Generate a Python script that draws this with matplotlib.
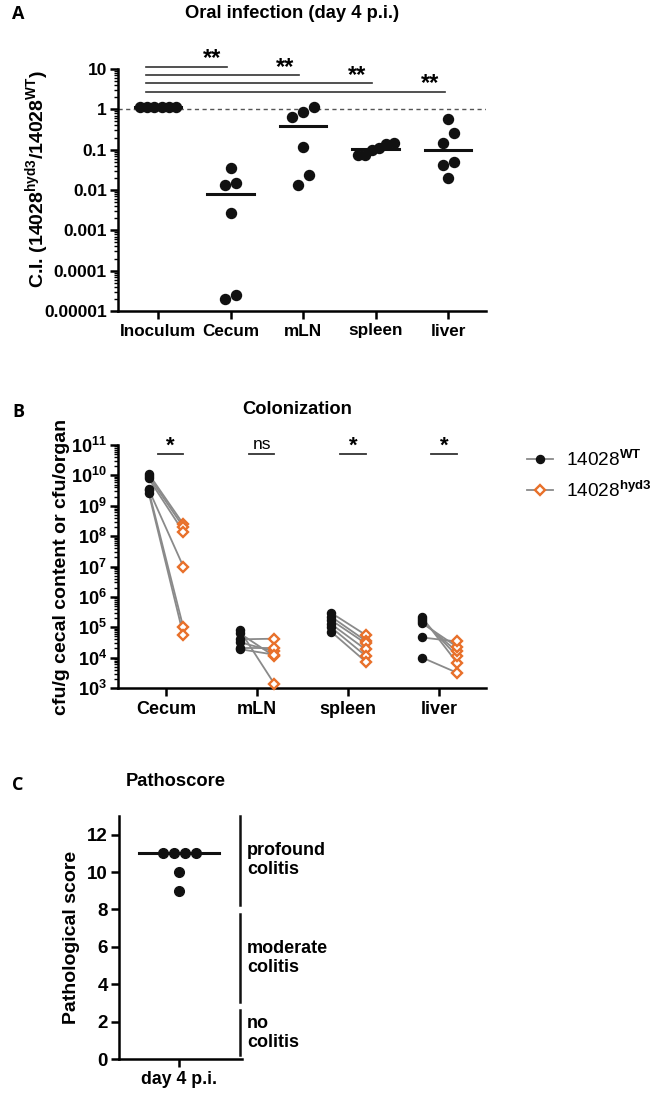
import numpy as np
import matplotlib
matplotlib.use('Agg')
import matplotlib.pyplot as plt
from matplotlib.lines import Line2D
from matplotlib.ticker import LogLocator, NullFormatter

plt.rcParams['font.family'] = ['Liberation Sans', 'DejaVu Sans']
plt.rcParams['font.weight'] = 'bold'
plt.rcParams['mathtext.fontset'] = 'custom'
plt.rcParams['mathtext.rm'] = 'Liberation Sans'
plt.rcParams['mathtext.bf'] = 'Liberation Sans:bold'
plt.rcParams['mathtext.it'] = 'Liberation Sans:italic'

# --- Panel A: competitive index ---
ci_groups = ['Inoculum', 'Cecum', 'mLN', 'spleen', 'liver']
ci_inoculum = [1.12, 1.12, 1.12, 1.12, 1.12, 1.12]
ci_cecum = [0.036, 0.015, 0.013, 0.0027, 0.000025, 0.00002]
ci_mln = [1.14, 0.84, 0.66, 0.118, 0.023, 0.013]
ci_spleen = [0.148, 0.135, 0.112, 0.1, 0.074, 0.074]
ci_liver = [0.59, 0.26, 0.148, 0.05, 0.042, 0.0195]
ci_ticks = [1e-5, 1e-4, 1e-3, 1e-2, 1e-1, 1, 10]
ci_ticklabels = ['0.00001', '0.0001', '0.001', '0.01', '0.1', '1', '10']
ci_sig = ['**', '**', '**', '**']
ci_sig_y = [11.2, 7.0, 4.4, 2.7]

# --- Panel B: colonization (paired WT / hyd3) ---
col_groups = ['Cecum', 'mLN', 'spleen', 'liver']
wt_cecum = [1.12e10, 9.5e9, 7.9e9, 3.5e9, 3.2e9, 2.7e9]
hyd_cecum = [2.5e8, 2.0e8, 1.4e8, 1.0e7, 1.0e5, 5.6e4]
wt_mln = [7.9e4, 6.3e4, 4.0e4, 3.2e4, 2.0e4, 1.9e4]
hyd_mln = [1.35e3, 1.1e4, 4.2e4, 1.6e4, 2.0e4, 1.25e4]
wt_spleen = [3.0e5, 2.24e5, 1.74e5, 1.29e5, 1.0e5, 7.2e4]
hyd_spleen = [5.6e4, 3.6e4, 2.95e4, 1.86e4, 1.15e4, 7.4e3]
wt_liver = [2.1e5, 1.8e5, 1.55e5, 1.35e5, 4.6e4, 1.0e4]
hyd_liver = [6.9e3, 1.15e4, 1.6e4, 2.3e4, 3.4e4, 3.2e3]
col_sig = ['*', 'ns', '*', '*']
col_exps = [3, 4, 5, 6, 7, 8, 9, 10, 11]

# --- Panel C: pathoscore ---
patho = [11, 11, 11, 11, 10, 9]
band_labels = ['profound\ncolitis', 'moderate\ncolitis', 'no\ncolitis']
band_ranges = [(8.25, 13), (3.05, 7.75), (0.2, 2.6)]

BLACK = '#111111'
ORANGE = '#E8702A'
GREY = '#8a8a8a'

W, H = 658, 1095
fig = plt.figure(figsize=(W / 100, H / 100), dpi=100)


def ax_rect(x0, y0, x1, y1):
    # pixel box -> figure fraction
    return [x0 / W, 1 - y1 / H, (x1 - x0) / W, (y1 - y0) / H]


def style(ax, ysize=12.5, xsize=12.5):
    for s in ['top', 'right']:
        ax.spines[s].set_visible(False)
    for s in ['left', 'bottom']:
        ax.spines[s].set_linewidth(1.8)
    ax.tick_params(which='major', direction='out', length=6, width=1.8)
    ax.tick_params(which='minor', direction='out', length=3, width=1.0)
    ax.tick_params(axis='y', labelsize=ysize, pad=2)
    ax.tick_params(axis='x', labelsize=xsize, pad=3)


def log_minor(ax):
    ax.yaxis.set_minor_locator(LogLocator(base=10, subs=np.arange(2, 10), numticks=100))
    ax.yaxis.set_minor_formatter(NullFormatter())


def swarm(vals, px_per_unit, px_per_x, log=True, thr=12, step=11, maxw=36):
    # simple scatter spreading for dot plots
    v = np.log10(vals) if log else np.asarray(vals, float)
    ypx = v * px_per_unit
    order = np.argsort(ypx, kind='stable')
    offs = np.zeros(len(v))
    groups = [[order[0]]]
    for i in order[1:]:
        if ypx[i] - ypx[groups[-1][-1]] < thr:
            groups[-1].append(i)
        else:
            groups.append([i])
    for g in groups:
        n = len(g)
        s = step if n < 2 else min(step, maxw / (n - 1))
        for k, i in enumerate(g):
            offs[i] = (k - (n - 1) / 2) * s / px_per_x
    return offs


# ================= Panel A =================
axA = fig.add_axes(ax_rect(118, 69, 486, 311))
style(axA, ysize=12.5, xsize=12.3)
axA.set_yscale('log')
axA.set_ylim(1e-5, 10)
axA.set_xlim(-0.55, 4.52)
axA.axhline(1, color='#555555', lw=1.0, ls=(0, (3, 2.5)), zorder=1)
ci_data = [ci_inoculum, ci_cecum, ci_mln, ci_spleen, ci_liver]
for i, vals in enumerate(ci_data):
    offs = swarm(vals, 40.3, 72.5)
    axA.plot(i + offs, vals, 'o', color=BLACK, ms=7.2, zorder=3, clip_on=False)
    med = np.median(vals)
    axA.plot([i - 0.32, i + 0.32], [med, med], color=BLACK, lw=2.2, zorder=2)
for j, (lab, yv) in enumerate(zip(ci_sig, ci_sig_y)):
    end = j + 1 - 0.05
    axA.plot([-0.17, end], [yv, yv], color='#333333', lw=1.2, clip_on=False)
    axA.text(end - 0.2, yv * 0.82, lab, ha='center', va='bottom', fontsize=17,
             clip_on=False)
axA.set_yticks(ci_ticks)
axA.set_yticklabels(ci_ticklabels)
log_minor(axA)
axA.set_xticks(range(len(ci_groups)))
axA.set_xticklabels(ci_groups)

fig.text(12 / W, 1 - 14 / H, 'A', family='Open Sans', fontsize=13, weight='bold',
         ha='left', va='center')
fig.text(292 / W, 1 - 14 / H, 'Oral infection (day 4 p.i.)', fontsize=13.2,
         ha='center', va='center')
fig.text(37 / W, 1 - 179 / H, r'C.I. (14028$^{\mathrm{hyd3}}$/14028$^{\mathrm{WT}}$)',
         rotation=90, fontsize=14, ha='center', va='center')

# ================= Panel B =================
axB = fig.add_axes(ax_rect(118, 445, 486, 688))
style(axB, ysize=13, xsize=13)
axB.set_yscale('log')
axB.set_ylim(1e3, 1e11)
axB.set_xlim(-0.526, 3.51)
wt_data = [wt_cecum, wt_mln, wt_spleen, wt_liver]
hyd_data = [hyd_cecum, hyd_mln, hyd_spleen, hyd_liver]
dx = 0.19
for i, (wt, hy) in enumerate(zip(wt_data, hyd_data)):
    for a, b in zip(wt, hy):
        axB.plot([i - dx, i + dx], [a, b], color=GREY, lw=1.3, zorder=1)
    axB.plot([i - dx] * len(wt), wt, 'o', color=BLACK, ms=5.8, zorder=3)
    axB.plot([i + dx] * len(hy), hy, 'D', mfc='white', mec=ORANGE, mew=1.7,
             ms=5.2, zorder=3, clip_on=False)
    axB.plot([i - 0.09, i + 0.19], [5e10, 5e10], color='#333333', lw=1.3, clip_on=False)
    if col_sig[i] == '*':
        axB.text(i + 0.05, 4.2e10, col_sig[i], ha='center', va='bottom',
                 fontsize=16, clip_on=False)
    else:
        axB.text(i + 0.05, 5.8e10, col_sig[i], ha='center', va='bottom',
                 fontsize=12.5, weight='normal', clip_on=False)
axB.set_yticks([10.0 ** e for e in col_exps])
axB.set_yticklabels([r'$\mathbf{10}^{%d}$' % e for e in col_exps])
log_minor(axB)
axB.set_xticks(range(len(col_groups)))
axB.set_xticklabels(col_groups)

fig.text(12 / W, 1 - 412 / H, 'B', family='Open Sans', fontsize=13, weight='bold',
         ha='left', va='center')
fig.text(297 / W, 1 - 410 / H, 'Colonization', fontsize=13.2, ha='center', va='center')
fig.text(62 / W, 1 - 567 / H, 'cfu/g cecal content or cfu/organ', rotation=90,
         fontsize=14, ha='center', va='center')

handles = [
    Line2D([], [], color=GREY, lw=1.3, marker='o', mfc=BLACK, mec=BLACK, ms=5.8),
    Line2D([], [], color=GREY, lw=1.3, marker='D', mfc='white', mec=ORANGE, mew=1.7, ms=5.2),
]
leg = fig.legend(handles, [r'14028$^{\mathrm{WT}}$', r'14028$^{\mathrm{hyd3}}$'],
                 loc='upper left', bbox_to_anchor=(527 / W, 1 - 450 / H),
                 frameon=False, borderpad=0, borderaxespad=0, handlelength=1.35,
                 handletextpad=0.7, labelspacing=0.55,
                 prop={'size': 13.7, 'weight': 'normal'})

# ================= Panel C =================
axC = fig.add_axes(ax_rect(119, 816, 242, 1059))
style(axC, ysize=13.5, xsize=12.8)
axC.set_ylim(0, 13)
axC.set_xlim(-0.98, 1.02)
offs = swarm(patho, 18.65, 61.5, log=False, thr=10)
axC.plot(np.array(offs), patho, 'o', color=BLACK, ms=7, zorder=3)
med = np.median(patho)
axC.plot([-0.65, 0.65], [med, med], color=BLACK, lw=2.2, zorder=2)
axC.set_yticks(range(0, 13, 2))
axC.set_xticks([0])
axC.set_xticklabels(['day 4 p.i.'])
for lab, (lo, hi) in zip(band_labels, band_ranges):
    axC.plot([0.98, 0.98], [lo, hi], color=BLACK, lw=1.8, clip_on=False)
    axC.text(1.1, (lo + hi) / 2, lab, ha='left', va='center', fontsize=13,
             linespacing=1.15, clip_on=False)

fig.text(12 / W, 1 - 785 / H, 'C', family='Open Sans', fontsize=13, weight='bold',
         ha='left', va='center')
fig.text(176 / W, 1 - 782 / H, 'Pathoscore', fontsize=13.2, ha='center', va='center')
fig.text(72 / W, 1 - 937 / H, 'Pathological score', rotation=90, fontsize=14,
         ha='center', va='center')

fig.savefig('out.png', dpi=100)
